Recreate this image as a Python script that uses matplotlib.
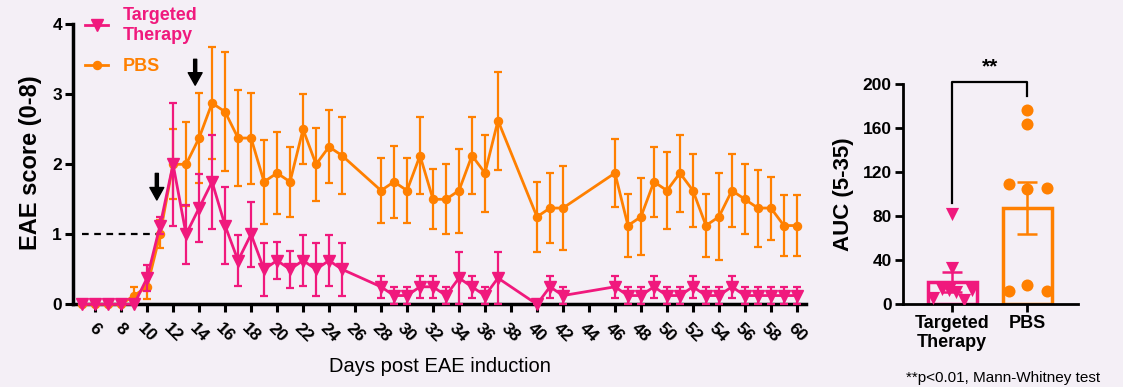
import numpy as np
import matplotlib
matplotlib.use("Agg")
import matplotlib.pyplot as plt
from matplotlib.lines import Line2D

plt.rcParams['font.family'] = ['Liberation Sans', 'DejaVu Sans']

BG = '#f4eff6'
PINK = '#f0197d'
ORANGE = '#ff8000'

# ---------------- data: time course ----------------
tt_days = [5, 6, 7, 8, 9, 10, 11, 12, 13, 14, 15, 16, 17, 18, 19, 20, 21, 22, 23, 24, 25,
           28, 29, 30, 31, 32, 33, 34, 35, 36, 37, 40, 41, 42,
           46, 47, 48, 49, 50, 51, 52, 53, 54, 55, 56, 57, 58, 59, 60]
tt_mean = [0, 0, 0, 0, 0, 0.375, 1.125, 2.0, 1.0, 1.375, 1.75, 1.125, 0.625, 1.0, 0.5, 0.625, 0.5, 0.625, 0.5, 0.625, 0.5,
           0.25, 0.125, 0.125, 0.25, 0.25, 0.125, 0.375, 0.25, 0.125, 0.375, 0.0, 0.25, 0.125,
           0.25, 0.125, 0.125, 0.25, 0.125, 0.125, 0.25, 0.125, 0.125, 0.25, 0.125, 0.125, 0.125, 0.125, 0.125]
tt_sem = [0, 0, 0, 0, 0, 0.18, 0.125, 0.875, 0.42, 0.48, 0.67, 0.55, 0.37, 0.46, 0.38, 0.26, 0.26, 0.37, 0.38, 0.37, 0.38,
          0.16, 0.125, 0.125, 0.16, 0.16, 0.125, 0.375, 0.16, 0.125, 0.375, 0, 0.16, 0.125,
          0.16, 0.125, 0.125, 0.16, 0.125, 0.125, 0.16, 0.125, 0.125, 0.16, 0.125, 0.125, 0.125, 0.125, 0.125]

pbs_days = [5, 6, 7, 8, 9, 10, 11, 12, 13, 14, 15, 16, 17, 18, 19, 20, 21, 22, 23, 24, 25,
            28, 29, 30, 31, 32, 33, 34, 35, 36, 37, 40, 41, 42,
            46, 47, 48, 49, 50, 51, 52, 53, 54, 55, 56, 57, 58, 59, 60]
pbs_mean = [0, 0, 0, 0, 0.125, 0.25, 1.0, 2.0, 2.0, 2.375, 2.875, 2.75, 2.375, 2.375, 1.75, 1.875, 1.75, 2.5, 2.0, 2.25, 2.125,
            1.625, 1.75, 1.625, 2.125, 1.5, 1.5, 1.625, 2.125, 1.875, 2.625, 1.25, 1.375, 1.375,
            1.875, 1.125, 1.25, 1.75, 1.625, 1.875, 1.625, 1.125, 1.25, 1.625, 1.5, 1.375, 1.375, 1.125, 1.125]
pbs_sem = [0, 0, 0, 0, 0.125, 0.18, 0.2, 0.5, 0.6, 0.64, 0.8, 0.85, 0.69, 0.65, 0.6, 0.58, 0.5, 0.5, 0.52, 0.52, 0.55,
           0.46, 0.51, 0.46, 0.55, 0.43, 0.5, 0.6, 0.55, 0.55, 0.7, 0.5, 0.5, 0.6,
           0.48, 0.45, 0.55, 0.5, 0.55, 0.55, 0.52, 0.45, 0.62, 0.52, 0.5, 0.55, 0.45, 0.44, 0.44]

x_ticks = list(range(6, 61, 2))
arrow_days = [10.75, 13.7]
arrow_tips = [1.49, 3.13]
arrow_tails = [1.87, 3.5]
threshold = 1.0

# ---------------- data: AUC ----------------
groups = ['Targeted\nTherapy', 'PBS']
auc_mean = [20.3, 87.5]
auc_sem = [9.5, 23.5]
tt_auc = [82, 33, 14, 13, 11.5, 13, 5.5, 4]
tt_auc_off = [0, 0, -0.14, -0.04, 0.05, 0.26, -0.25, 0.15]
pbs_auc = [177, 164, 109, 105, 106, 18, 12, 12]
pbs_auc_off = [0, 0, -0.25, 0, 0.26, 0, -0.25, 0.26]

# ---------------- figure ----------------
fig = plt.figure(figsize=(11.23, 3.87), dpi=100, facecolor=BG)
ax = fig.add_axes([73/1123, 1-304.3/387, (806-73)/1123, (304.3-24.3)/387])
ax.set_facecolor(BG)

ax.errorbar(pbs_days, pbs_mean, yerr=pbs_sem, color=ORANGE, lw=2.0, marker='o', ms=5.8,
            elinewidth=1.6, capsize=2.8, capthick=1.6, zorder=3, clip_on=False)
ax.errorbar(tt_days, tt_mean, yerr=tt_sem, color=PINK, lw=2.0, marker='v', ms=8,
            elinewidth=1.6, capsize=2.8, capthick=1.6, zorder=4, clip_on=False)

ax.plot([5, 11], [threshold, threshold], ls=(0, (3, 2.5)), color='black', lw=1.6, zorder=2)

for xd, tip, tail in zip(arrow_days, arrow_tips, arrow_tails):
    ax.annotate('', xy=(xd, tip), xytext=(xd, tail),
                arrowprops=dict(facecolor='black', edgecolor='black', width=2.2,
                                headwidth=10, headlength=9, shrink=0))

ax.set_xlim(4.3, 60.7)
ax.set_ylim(0, 4)
ax.set_yticks([0, 1, 2, 3, 4])
ax.set_xticks(x_ticks)
ax.set_xticklabels([str(t) for t in x_ticks], rotation=-45, ha='center', va='top',
                   fontsize=12.5, fontweight='bold')
for lab in ax.get_yticklabels():
    lab.set_fontsize(12.5)
    lab.set_fontweight('bold')
for s in ['top', 'right']:
    ax.spines[s].set_visible(False)
for s in ['left', 'bottom']:
    ax.spines[s].set_linewidth(2.5)
ax.tick_params(axis='x', direction='out', length=6, width=2.2, pad=6)
ax.tick_params(axis='y', direction='out', length=6, width=2.2, pad=2)
ax.set_ylabel('EAE score (0-8)', fontsize=17, fontweight='bold')
ax.yaxis.set_label_coords((31-73)/733, (304.3-163)/280)
ax.yaxis.label.set_va('center')
ax.set_xlabel('Days post EAE induction', fontsize=14.5)
ax.xaxis.set_label_coords(0.5, (304.3-366)/280)
ax.xaxis.label.set_va('center')

handles = [Line2D([], [], color=PINK, marker='v', ms=8, lw=2.0),
           Line2D([], [], color=ORANGE, marker='o', ms=5.8, lw=2.0)]
leg = ax.legend(handles, ['Targeted\nTherapy', 'PBS'], loc='upper left',
                bbox_to_anchor=(85/1123, 1-7/387), bbox_transform=fig.transFigure,
                frameon=False, handlelength=1.3, handletextpad=0.8, labelspacing=0.8,
                borderpad=0, borderaxespad=0, prop=dict(size=13, weight='bold'))
for t, c in zip(leg.get_texts(), [PINK, ORANGE]):
    t.set_color(c)

# ---------------- AUC panel ----------------
ax2 = fig.add_axes([902.7/1123, 1-304.3/387, (1077.7-902.7)/1123, (304.3-84.3)/387])
ax2.set_facecolor(BG)
xpos = np.arange(len(groups))
cols = [PINK, ORANGE]
ax2.bar(xpos, auc_mean, width=0.65, facecolor='none', edgecolor=cols, linewidth=2.5, zorder=2)
for i in range(2):
    ax2.errorbar(xpos[i], auc_mean[i], yerr=auc_sem[i], fmt='none', ecolor=cols[i],
                 elinewidth=1.8, capsize=7, capthick=1.8, zorder=3)
ax2.scatter(xpos[0] + np.array(tt_auc_off), tt_auc, marker='v', s=90, color=PINK, zorder=4, lw=0)
ax2.scatter(xpos[1] + np.array(pbs_auc_off), pbs_auc, marker='o', s=75, color=ORANGE, zorder=4, lw=0)

ax2.plot([0, 0, 1, 1], [92, 202, 202, 189], color='black', lw=1.6, clip_on=False)
ax2.text(0.5, 207, '**', ha='center', va='bottom', fontsize=15, fontweight='bold')

ax2.set_xlim(-0.66, 1.67)
ax2.set_ylim(0, 200)
ax2.set_yticks([0, 40, 80, 120, 160, 200])
ax2.set_xticks(xpos)
ax2.set_xticklabels(groups, fontsize=13, fontweight='bold', linespacing=1.1)
for lab in ax2.get_yticklabels():
    lab.set_fontsize(12.5)
    lab.set_fontweight('bold')
for s in ['top', 'right']:
    ax2.spines[s].set_visible(False)
for s in ['left', 'bottom']:
    ax2.spines[s].set_linewidth(2)
ax2.tick_params(axis='both', direction='out', length=6, width=2, pad=2)
ax2.set_ylabel('AUC (5-35)', fontsize=16, fontweight='bold', labelpad=6)

fig.text(1100/1123, 1-378/387, '**p<0.01, Mann-Whitney test', ha='right', va='center', fontsize=11)

fig.savefig('out.png', dpi=100, facecolor=BG)
